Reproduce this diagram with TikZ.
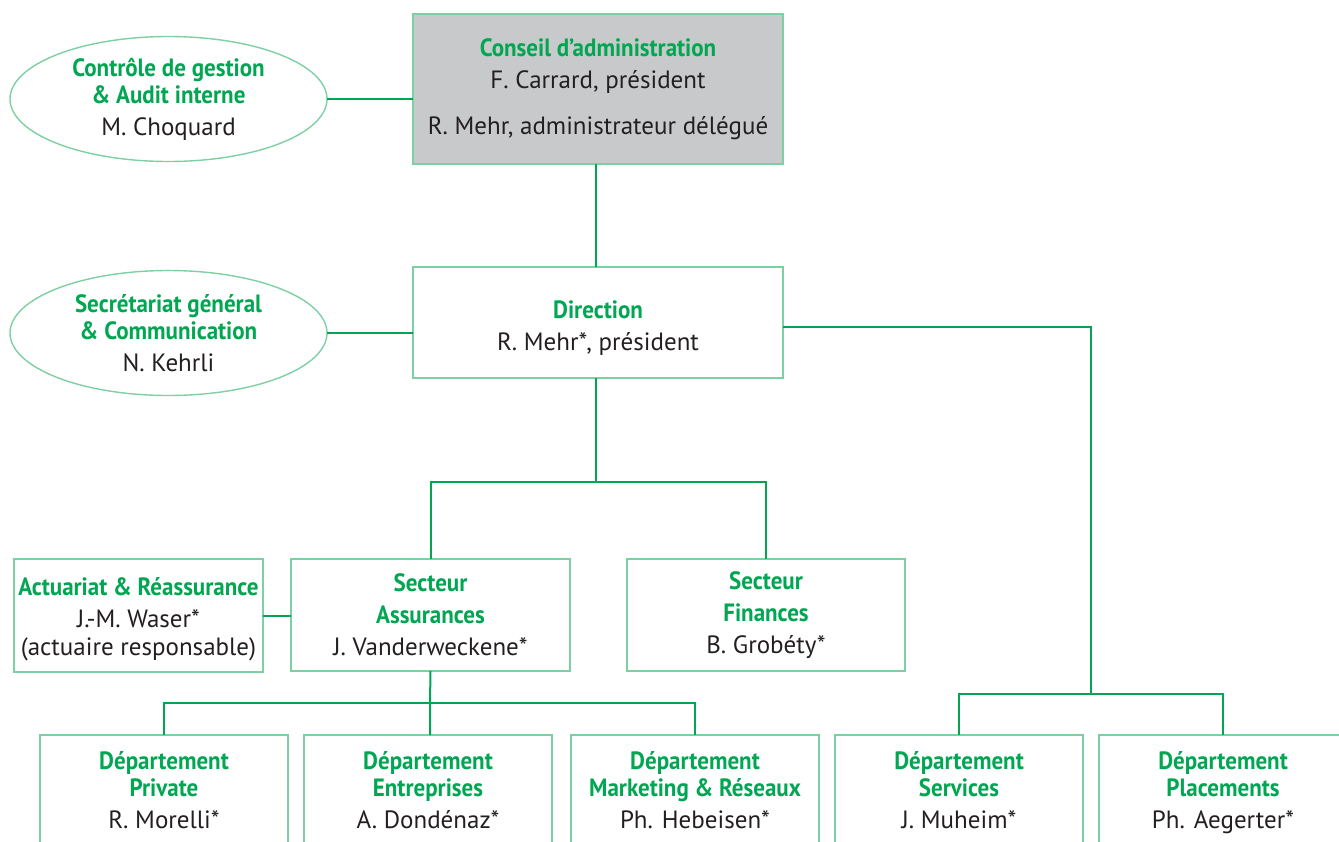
\documentclass[tikz,border=0pt]{standalone}
\usepackage{fontspec}
\setmainfont{PT Sans}[BoldFeatures={FakeStretch=0.92}]
\usetikzlibrary{positioning, shapes.geometric}
\definecolor{vert}{RGB}{0,166,81}
\definecolor{vertclair}{RGB}{125,208,164}
\definecolor{gris}{RGB}{200,201,203}
\definecolor{encre}{RGB}{35,31,32}
\tikzset{
  unite/.style={draw=vertclair, line width=0.7pt, text=encre, align=center, inner sep=0pt,
    outer sep=0pt, font=\fontsize{12.5}{16}\selectfont},
  boite/.style={unite, rectangle},
  bulle/.style={unite, ellipse, minimum width=158.5pt, minimum height=62.5pt},
  dept/.style={boite, minimum width=124pt, minimum height=60pt,
    execute at begin node=\strut, execute at end node=\strut},
  lien/.style={draw=vert, line width=1pt},
}
\newcommand{\titre}[1]{{\bfseries\color{vert}#1}}
\begin{document}
\begin{tikzpicture}[x=0.5pt, y=-0.5pt]
  \useasboundingbox (0,0) rectangle (1339,841);
  \clip (0,0) rectangle (1339,841);
  % conseil et direction
  \node[boite, fill=gris, minimum width=185pt, minimum height=75pt] (ca) at (598,89)
    {\titre{Conseil d’administration}\\ F. Carrard, président\\[7pt] R. Mehr, administrateur délégué};
  \node[boite, minimum width=185pt, minimum height=55.5pt] (dir) at (598,322.5)
    {\rule{0pt}{14pt}\titre{Direction}\\ R. Mehr*, président};
  \node[bulle] (ctrl) at (168.5,99)
    {\titre{Contrôle de gestion}\\[-2.5pt] \titre{\& Audit interne}\\ M. Choquard};
  \node[bulle] (sg) at (168.5,333)
    {\titre{Secrétariat général}\\[-2.5pt] \titre{\& Communication}\\ N. Kehrli};
  % secteurs
  \node[boite, minimum width=139.5pt, minimum height=56pt] (ass) at (430.5,615)
    {\titre{Secteur}\\ \titre{Assurances}\\ J. Vanderweckene*};
  \node[boite, minimum width=139pt, minimum height=56pt, right=28.5pt of ass] (fin)
    {\titre{Secteur}\\ \titre{Finances}\\ B. Grobéty*};
  \node[boite, minimum width=124.5pt, minimum height=56.5pt] (act) at (138.5,615.5)
    {\rule{0pt}{13pt}\titre{Actuariat \& Réassurance}\\ J.-M. Waser*\\[-2pt] (actuaire responsable)};
  % departements
  \node[dept] (priv) at (164,795) {\titre{Département}\\[-2.5pt] \titre{Private}\\ R. Morelli*};
  \node[dept, right=8pt of priv] (entr) {\titre{Département}\\[-2.5pt] \titre{Entreprises}\\ A. Dondénaz*};
  \node[dept, right=9.5pt of entr] (mkt) {\titre{Département}\\[-2.5pt] \titre{Marketing \& Réseaux}\\ Ph. Hebeisen*};
  \node[dept, right=8pt of mkt] (serv) {\titre{Département}\\[-2.5pt] \titre{Services}\\ J. Muheim*};
  \node[dept, right=8pt of serv] (plac) {\titre{Département}\\[-2.5pt] \titre{Placements}\\ Ph. Aegerter*};
  % liaisons
  \coordinate (b1) at (596,482);
  \coordinate (b2) at (430,703);
  \coordinate (b3) at (1091,694);
  \draw[lien] (ctrl.east) -- (ctrl.east -| ca.west);
  \draw[lien] (sg.east) -- (sg.east -| dir.west);
  \draw[lien] (ca.south -| b1) -- (dir.north -| b1);
  \draw[lien] (dir.south -| b1) -- (b1);
  \draw[lien] (ass.north) |- (b1) -| (fin.north);
  \draw[lien] (act.east) -- (act.east -| ass.west);
  \draw[lien] (ass.south) -- (b2) -- (b2 |- entr.north);
  \draw[lien] (priv.north) |- (b2) -| (mkt.north);
  \draw[lien] ([yshift=-2pt]dir.east) -| (b3);
  \draw[lien] (serv.north) |- (b3) -| (plac.north);
\end{tikzpicture}
\end{document}
